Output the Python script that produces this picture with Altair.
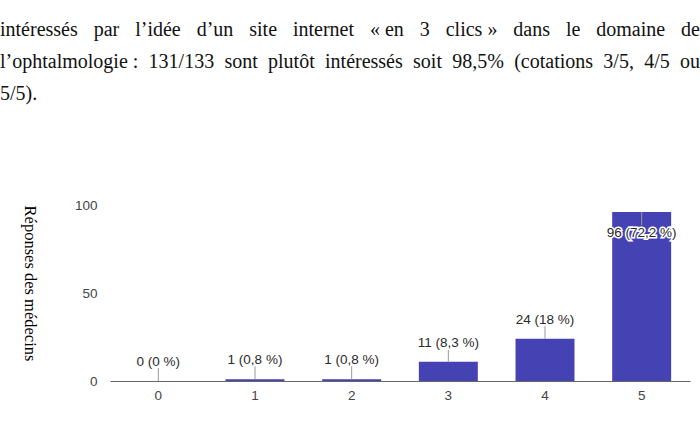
import altair as alt
import pandas as pd

# ---- chart data ----
categories = ["0", "1", "2", "3", "4", "5"]
counts = [0, 1, 1, 11, 24, 96]
labels = ["0 (0 %)", "1 (0,8 %)", "1 (0,8 %)", "11 (8,3 %)", "24 (18 %)", "96 (72,2 %)"]
y_ticks = [0, 50, 100]
y_title = "Réponses des médecins"

# ---- paragraph text above the chart ----
para_lines = [
    "intéressés par l’idée d’un site internet «\u00a0en 3 clics\u00a0» dans le domaine de",
    "l’ophtalmologie\u00a0: 131/133 sont plutôt intéressés soit 98,5% (cotations 3/5, 4/5 ou",
    "5/5).",
]
para_justified = [True, True, False]

# layout constants
PAD_L, PAD_T, PLOT_W, PLOT_H = 110, 205, 580, 176
PARA_FS = 20
LINE_W = 700
FIRST_BASELINE = 36
LINE_GAP = 32

# Times / Liberation Serif advance widths (per 1000 em)
tw = {' ': 250, '\u00a0': 250, 'a': 444, 'b': 500, 'c': 444, 'd': 500, 'e': 444, 'é': 444,
      'f': 333, 'g': 500, 'h': 500, 'i': 278, 'l': 278, 'm': 778, 'n': 500, 'o': 500, 'ô': 500,
      'p': 500, 'r': 333, 's': 389, 't': 278, 'u': 500, '’': 333, ':': 278, '/': 278, ',': 250,
      '.': 250, '%': 833, '(': 333, ')': 333, '«': 500, '»': 500}


def wwidth(w):
    return sum(tw.get(ch, 500) for ch in w) * PARA_FS / 1000.0


rows = []
for li, (line, just) in enumerate(zip(para_lines, para_justified)):
    words = line.split(" ")
    widths = [wwidth(w) for w in words]
    if just and len(words) > 1:
        gap = (LINE_W - sum(widths)) / (len(words) - 1)
    else:
        gap = 250 * PARA_FS / 1000.0
    xpos = 0.0
    for w, wd in zip(words, widths):
        rows.append({"word": w, "px": xpos - PAD_L,
                     "py": FIRST_BASELINE + li * LINE_GAP - PAD_T})
        xpos += wd + gap
pdf = pd.DataFrame(rows)

para = alt.Chart(pdf).mark_text(
    align="left", baseline="alphabetic", font="Liberation Serif",
    fontSize=PARA_FS, color="#111111"
).encode(
    x=alt.X("px:Q", scale=None, axis=None),
    y=alt.Y("py:Q", scale=None, axis=None),
    text="word:N",
)

# ---- bar chart ----
df = pd.DataFrame({"cat": categories, "count": counts, "label": labels})

LEAD = 7.4  # leader length in data units (~13 px)

base = alt.Chart(df).transform_joinaggregate(
    mx="max(count)"
).transform_calculate(
    inside="datum.count > 0.8 * datum.mx",
    lead=f"datum.count > 0.8 * datum.mx ? datum.count - {LEAD} : datum.count + {LEAD}",
)

x = alt.X(
    "cat:N", sort=categories,
    scale=alt.Scale(paddingInner=0.39, paddingOuter=0.195),
    axis=alt.Axis(title=None, labelAngle=0, ticks=False, domainColor="#666666",
                  domainWidth=1, labelPadding=7, labelFont="Liberation Sans",
                  labelFontSize=13.5, labelColor="#444444", grid=False),
)
y = alt.Y(
    "count:Q", scale=alt.Scale(domain=[0, 100]),
    axis=alt.Axis(values=y_ticks, title=y_title, titleAngle=90, titleX=-81, titleY=78,
                  titleAlign="center", titleBaseline="middle",
                  titleFont="Liberation Serif", titleFontSize=16.5,
                  titleFontWeight="normal", titleColor="#000000",
                  domain=False, ticks=False, grid=False, labelPadding=13,
                  labelFont="Liberation Sans", labelFontSize=13.5, labelColor="#444444"),
)

bars = base.mark_bar(color="#4542b4").encode(x=x, y=y)
leaders = base.mark_rule(color="#999999", strokeWidth=1).encode(
    x=x, y=y, y2=alt.Y2("lead:Q"))

txt_style = dict(font="Liberation Sans", fontSize=13.5, baseline="middle", align="center")
halo_out = base.transform_filter("!datum.inside").mark_text(
    dy=-19, stroke="white", strokeWidth=3, color="white", **txt_style
).encode(x=x, y=y, text="label:N")
text_out = base.transform_filter("!datum.inside").mark_text(
    dy=-19, color="#2a2a2a", **txt_style
).encode(x=x, y=y, text="label:N")
halo_in = base.transform_filter("datum.inside").mark_text(
    dy=21, stroke="white", strokeWidth=3, color="white", **txt_style
).encode(x=x, y=y, text="label:N")
text_in = base.transform_filter("datum.inside").mark_text(
    dy=21, color="#2a2a2a", **txt_style
).encode(x=x, y=y, text="label:N")

bar_chart = alt.layer(bars, leaders, halo_out, text_out, halo_in, text_in)

chart = alt.layer(para, bar_chart).resolve_scale(
    x="independent", y="independent"
).properties(
    width=PLOT_W, height=PLOT_H,
    autosize=alt.AutoSizeParams(type="none"),
    padding={"left": PAD_L, "top": PAD_T, "right": 700 - PAD_L - PLOT_W,
             "bottom": 431 - PAD_T - PLOT_H},
    background="white",
).configure_view(stroke=None)

chart.save("out.html", embed_options={"renderer": "svg", "actions": False})
